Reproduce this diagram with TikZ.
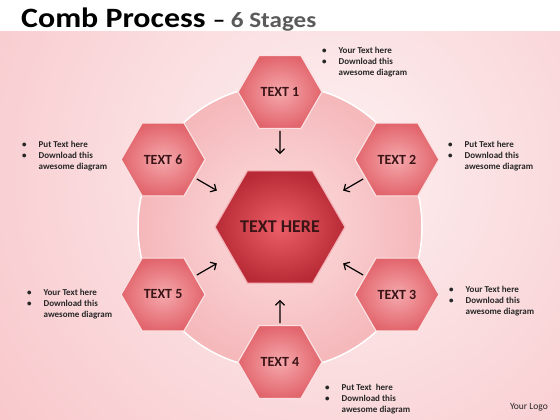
\documentclass[tikz,border=0pt]{standalone}
\usepackage{fontspec}
\setmainfont{Carlito}
\usetikzlibrary{calc,arrows.meta,shapes.geometric}
\definecolor{ink}{HTML}{262626}
\definecolor{grey}{HTML}{5A5A5A}
\definecolor{bgin}{HTML}{FDF1F2}
\definecolor{bgout}{HTML}{F8C6CA}
\definecolor{ringin}{HTML}{FCDFE0}
\definecolor{ringout}{HTML}{F5B7BA}
\definecolor{hexin}{HTML}{F5A9AD}
\definecolor{hexout}{HTML}{E2656C}
\definecolor{hexline}{HTML}{FBE1E2}
\definecolor{hubin}{HTML}{EC5F68}
\definecolor{hubout}{HTML}{B82B36}
\definecolor{hubline}{HTML}{F3B3B7}
\definecolor{hextext}{HTML}{3A1416}
\newcommand\notelines[3]{\begin{tabular}[t]{@{}p{16.5pt}@{}l@{}}\textbullet&#1\\\textbullet&#2\\&#3\end{tabular}}
\tikzset{
  hexa/.style={regular polygon, regular polygon sides=6, minimum size=84pt, inner sep=0pt,
    shade, inner color=hexin, outer color=hexout, draw=hexline, line width=1.2pt,
    text=hextext, font=\bfseries\fontsize{14}{14}\selectfont},
  hub/.style={regular polygon, regular polygon sides=6, minimum size=120pt, inner sep=0pt,
    shade, inner color=hubin, outer color=hubout, draw=hubline, line width=1.2pt,
    text=hextext, font=\bfseries\fontsize{18}{18}\selectfont},
  flow/.style={draw=black, line width=1.2pt, -{Straight Barb[length=4.5pt,width=9pt]},
    shorten <=2pt, shorten >=16pt},
  note/.style={anchor=base west, inner sep=0pt, text=ink,
    font=\bfseries\fontsize{9}{11}\selectfont},
}
\begin{document}
\begin{tikzpicture}[x=1pt,y=-1pt]
  \useasboundingbox (0,0) rectangle (560,420);
  \def\r{135}
  \coordinate (C) at (280,227);

  % background
  \fill[white] (0,0) rectangle (560,420);
  \begin{scope}
    \clip (0,32) rectangle (560,420);
    \shade[inner color=bgin, outer color=bgout] (330,170) circle (430);
  \end{scope}

  % ring behind the comb
  \shade[inner color=ringin, outer color=ringout] (C) circle (142);
  \draw[white, line width=1.5pt] (C) circle (142);

  \node[hub] (hub) at (C) {TEXT HERE};
  \node[hexa] (t1) at ($(C)+(0,-\r)$) {TEXT 1};
  \node[hexa] (t2) at ($(C)+({\r*cos(30)},{-\r*sin(30)})$) {TEXT 2};
  \node[hexa] (t3) at ($(C)+({\r*cos(30)},{\r*sin(30)})$) {TEXT 3};
  \node[hexa] (t4) at ($(C)+(0,\r)$) {TEXT 4};
  \node[hexa] (t5) at ($(C)+({-\r*cos(30)},{\r*sin(30)})$) {TEXT 5};
  \node[hexa] (t6) at ($(C)+({-\r*cos(30)},{-\r*sin(30)})$) {TEXT 6};

  \draw[flow] (t1) -- (hub);
  \draw[flow] (t2) -- (hub);
  \draw[flow] (t3) -- (hub);
  \draw[flow] (t4) -- (hub);
  \draw[flow] (t5) -- (hub);
  \draw[flow] (t6) -- (hub);

  % side notes
  \node[note] (n1) at (322,54) {\notelines{Your Text here}{Download this}{awesome diagram}};
  \node[note] (n2) at (448,147) {\notelines{Put Text here}{Download this}{awesome diagram}};
  \node[note] (n3) at (449,292) {\notelines{Your Text here}{Download this}{awesome diagram}};
  \node[note] (n4) at (325,390) {\notelines{Put Text~ here}{Download this}{awesome diagram}};
  \node[note] (n5) at (27,295) {\notelines{Your Text here}{Download this}{awesome diagram}};
  \node[note] (n6) at (22,147) {\notelines{Put Text here}{Download this}{awesome diagram}};

  \node[anchor=base west, inner sep=0pt] (title) at (21,28)
    {\scalebox{1.14}[1]{\bfseries\fontsize{28}{28}\selectfont Comb Process {\fontsize{22}{22}\selectfont– \textcolor{grey}{6 Stages}}}};
  \node[anchor=base east, inner sep=0pt, text=ink, font=\fontsize{9.5}{9.5}\selectfont] (logo) at (548,409) {Your Logo};
\end{tikzpicture}
\end{document}
